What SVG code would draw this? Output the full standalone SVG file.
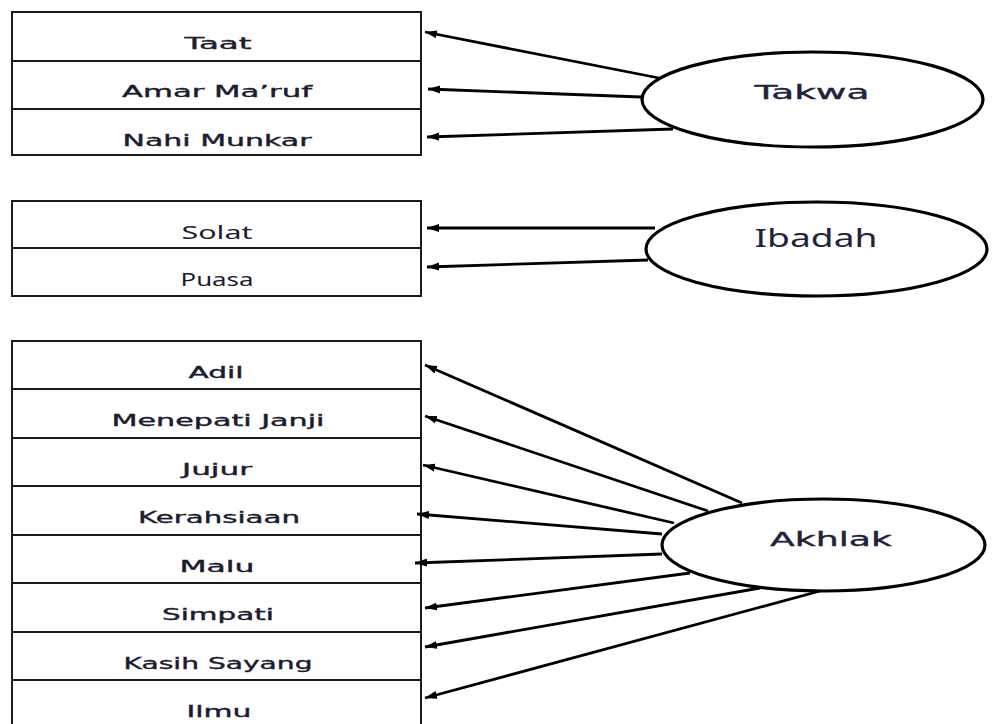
<svg xmlns="http://www.w3.org/2000/svg" width="992" height="724" viewBox="0 0 992 724">
<defs>
<marker id="ah" markerUnits="userSpaceOnUse" markerWidth="13" markerHeight="9" refX="12" refY="4.5" orient="auto">
<path d="M0,0.5 L12,4.5 L0,8.5 z" fill="#000"/>
</marker>
<style>
.box{fill:#fff;stroke:#1a1a1a;stroke-width:2}
.div{stroke:#1a1a1a;stroke-width:1.8}
.lbl{font-family:"DejaVu Sans",Verdana,sans-serif;font-size:15px;fill:#1c1c30;stroke:#1c1c30;stroke-width:0.35;text-anchor:middle}
.lbl2{font-family:"Noto Sans","Open Sans",sans-serif;font-size:18px;fill:#1c1c30;text-anchor:middle}
.ell{fill:#fff;stroke:#000;stroke-width:3.2}
.elbl{font-family:"DejaVu Sans",Verdana,sans-serif;font-size:20px;fill:#22223a;stroke:#22223a;stroke-width:0.35;text-anchor:middle}
.elbl2{font-family:"Noto Sans","Open Sans",sans-serif;font-size:25px;fill:#22223a;text-anchor:middle}
.con{stroke:#000;stroke-width:2.8;fill:none;marker-end:url(#ah)}
</style>
</defs>
<rect width="992" height="724" fill="#fff"/>

<g id="box-takwa">
<rect class="box" x="12" y="12" width="409" height="143"/>
<line class="div" x1="12" y1="61" x2="421" y2="61"/>
<line class="div" x1="12" y1="109" x2="421" y2="109"/>
<text class="lbl" x="218" y="49" textLength="67" lengthAdjust="spacingAndGlyphs">Taat</text>
<text class="lbl" x="217" y="97" textLength="190" lengthAdjust="spacingAndGlyphs">Amar Ma’ruf</text>
<text class="lbl" x="217" y="146" textLength="189" lengthAdjust="spacingAndGlyphs">Nahi Munkar</text>
</g>

<g id="box-ibadah">
<rect class="box" x="12" y="201" width="409" height="95"/>
<line class="div" x1="12" y1="248" x2="421" y2="248"/>
<text class="lbl2" x="217" y="239" textLength="71" lengthAdjust="spacingAndGlyphs">Solat</text>
<text class="lbl2" x="217" y="286" textLength="73" lengthAdjust="spacingAndGlyphs">Puasa</text>
</g>

<g id="box-akhlak">
<rect class="box" x="12" y="341" width="409" height="392"/>
<line class="div" x1="12" y1="389" x2="421" y2="389"/>
<line class="div" x1="12" y1="438" x2="421" y2="438"/>
<line class="div" x1="12" y1="486" x2="421" y2="486"/>
<line class="div" x1="12" y1="535" x2="421" y2="535"/>
<line class="div" x1="12" y1="583" x2="421" y2="583"/>
<line class="div" x1="12" y1="632" x2="421" y2="632"/>
<line class="div" x1="12" y1="680" x2="421" y2="680"/>
<text class="lbl" x="216" y="378" textLength="55" lengthAdjust="spacingAndGlyphs">Adil</text>
<text class="lbl" x="218" y="426" textLength="213" lengthAdjust="spacingAndGlyphs">Menepati Janji</text>
<text class="lbl" x="217" y="475" textLength="70" lengthAdjust="spacingAndGlyphs">Jujur</text>
<text class="lbl" x="219" y="523" textLength="162" lengthAdjust="spacingAndGlyphs">Kerahsiaan</text>
<text class="lbl" x="217" y="572" textLength="75" lengthAdjust="spacingAndGlyphs">Malu</text>
<text class="lbl" x="218" y="620" textLength="112" lengthAdjust="spacingAndGlyphs">Simpati</text>
<text class="lbl" x="218" y="669" textLength="189" lengthAdjust="spacingAndGlyphs">Kasih Sayang</text>
<text class="lbl" x="219" y="717" textLength="65" lengthAdjust="spacingAndGlyphs">Ilmu</text>
</g>

<g id="connectors">
<line class="con" x1="659" y1="78" x2="425" y2="32"/>
<line class="con" x1="641" y1="97" x2="428" y2="89"/>
<line class="con" x1="673" y1="129" x2="427" y2="137"/>
<line class="con" x1="655" y1="228" x2="427" y2="228"/>
<line class="con" x1="648" y1="260" x2="427" y2="267"/>
<line class="con" x1="742" y1="503" x2="425" y2="365"/>
<line class="con" x1="708" y1="511" x2="425" y2="416"/>
<line class="con" x1="674" y1="523" x2="423" y2="465"/>
<line class="con" x1="662" y1="534" x2="417" y2="514"/>
<line class="con" x1="662" y1="554" x2="415" y2="563"/>
<line class="con" x1="690" y1="573" x2="425" y2="608"/>
<line class="con" x1="760" y1="588" x2="425" y2="647"/>
<line class="con" x1="820" y1="591" x2="425" y2="698"/>
</g>

<g id="takwa">
<ellipse class="ell" cx="812.5" cy="99.5" rx="170.5" ry="47.5"/>
<text class="elbl" x="812" y="99" textLength="115" lengthAdjust="spacingAndGlyphs">Takwa</text>
</g>

<g id="ibadah">
<ellipse class="ell" cx="816.5" cy="249" rx="170.5" ry="47"/>
<text class="elbl2" x="816" y="247" textLength="123" lengthAdjust="spacingAndGlyphs">Ibadah</text>
</g>

<g id="akhlak">
<ellipse class="ell" cx="823.5" cy="545" rx="161.5" ry="46"/>
<text class="elbl" x="831" y="546" textLength="122" lengthAdjust="spacingAndGlyphs">Akhlak</text>
</g>
</svg>
